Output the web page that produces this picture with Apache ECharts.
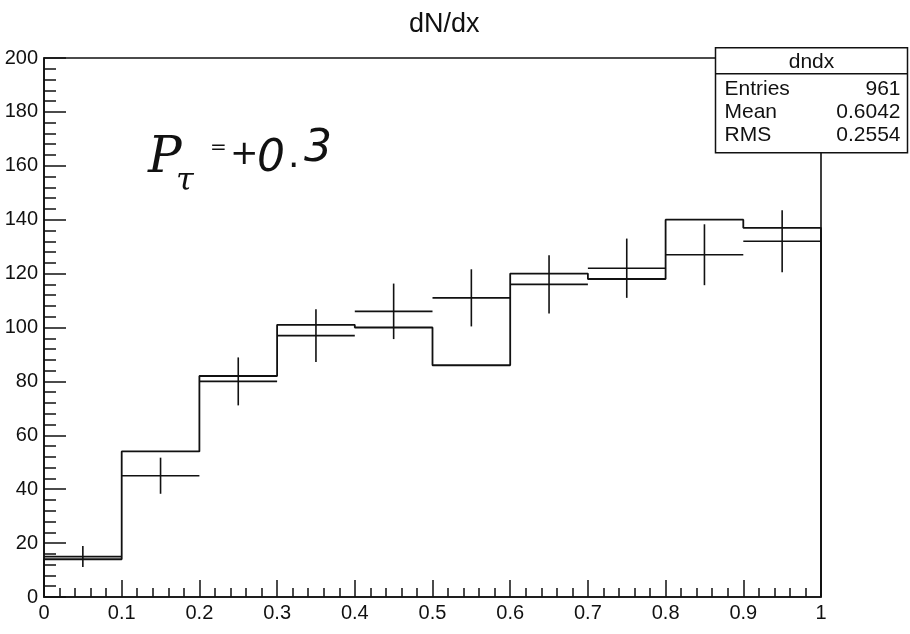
<!DOCTYPE html>
<html>
<head>
<meta charset="utf-8">
<title>dN/dx</title>
<script src="https://cdn.jsdelivr.net/npm/echarts@6/dist/echarts.min.js"></script>
<style>
html, body { margin: 0; padding: 0; background: #fff; }
#dndx { width: 910px; height: 634px; }
</style>
</head>
<body>
<div id="dndx"></div>
<script>
// bin edges (x)
var binEdges = [0, 0.1, 0.2, 0.3, 0.4, 0.5, 0.6, 0.7, 0.8, 0.9, 1.0]
// step histogram contents
var histCounts = [14, 54, 82, 101, 100, 86, 120, 118, 140, 137]
// points with error bars
var pointCounts = [15, 45, 80, 97, 106, 111, 116, 122, 127, 132]
var pointErrors = [3.9, 6.7, 8.9, 9.8, 10.3, 10.6, 10.8, 11.0, 11.3, 11.5]
// stats box
var statsName = 'dndx'
var statsLabels = ['Entries', 'Mean', 'RMS']
var statsValues = ['961', '0.6042', '0.2554']

var ink = '#111'
var font = '"Liberation Sans", Arial, Helvetica, sans-serif'
var hand = '"DejaVu Sans", sans-serif'

// histogram outline: corner points of every bin
var stepData = [[binEdges[0], 0]]
for (var i = 0; i < histCounts.length; i++) {
  stepData.push([binEdges[i], histCounts[i]])
  stepData.push([binEdges[i + 1], histCounts[i]])
}
stepData.push([binEdges[binEdges.length - 1], 0])

// error bar points: [lo, hi, value, err]
var errData = []
for (var j = 0; j < pointCounts.length; j++) {
  errData.push([binEdges[j], binEdges[j + 1], pointCounts[j], pointErrors[j]])
}

function renderErr (params, api) {
  var lo = api.value(0)
  var hi = api.value(1)
  var y = api.value(2)
  var e = api.value(3)
  var xc = (lo + hi) / 2
  var a = api.coord([lo, y])
  var b = api.coord([hi, y])
  var t = api.coord([xc, y + e])
  var d = api.coord([xc, y - e])
  var st = { stroke: ink, lineWidth: 1.6 }
  return {
    type: 'group',
    children: [
      { type: 'line', shape: { x1: a[0], y1: a[1], x2: b[0], y2: b[1] }, style: st },
      { type: 'line', shape: { x1: t[0], y1: t[1], x2: d[0], y2: d[1] }, style: st },
    ],
  }
}

// stats box graphics
var box = { left: 713, top: 47, width: 192, height: 105, head: 26 }
var statsChildren = [
  { type: 'rect', shape: { x: 0, y: 0, width: box.width, height: box.height },
    style: { fill: '#fff', stroke: ink, lineWidth: 1.5 } },
  { type: 'line', shape: { x1: 0, y1: box.head, x2: box.width, y2: box.head },
    style: { stroke: ink, lineWidth: 1.5 } },
  { type: 'text', x: box.width / 2, y: box.head / 2 + 1,
    style: { text: statsName, font: '21px ' + font, fill: ink, align: 'center', verticalAlign: 'middle' } },
]
for (var k = 0; k < statsLabels.length; k++) {
  var ry = 41 + k * 23
  statsChildren.push({ type: 'text', x: 9, y: ry,
    style: { text: statsLabels[k], font: '21px ' + font, fill: ink, align: 'left', verticalAlign: 'middle' } })
  statsChildren.push({ type: 'text', x: box.width - 7, y: ry,
    style: { text: statsValues[k], font: '21px ' + font, fill: ink, align: 'right', verticalAlign: 'middle' } })
}

// hand written note, P_tau = +0.3
var note = [
  { t: 'P', x: 148, y: 134, f: 'italic 50px "DejaVu Serif", serif' },
  { t: 'τ', x: 176, y: 166, f: 'italic 32px "DejaVu Serif", serif' },
  { t: '=', x: 210, y: 138, f: '20px ' + hand },
  { t: '+', x: 230, y: 138, f: '34px ' + hand },
  { t: '0', x: 257, y: 138, f: 'italic 44px ' + hand },
  { t: '.', x: 288, y: 140, f: '36px ' + hand },
  { t: '3', x: 304, y: 128, f: 'italic 44px ' + hand },
]
var noteGraphics = note.map(function (n) {
  return { type: 'text', left: n.x, top: n.y, style: { text: n.t, font: n.f, fill: ink } }
})

var myChart = echarts.init(document.getElementById('dndx'))
myChart.setOption({
  animation: false,
  backgroundColor: '#fff',
  title: {
    text: 'dN/dx',
    left: 404,
    top: 6,
    textStyle: { fontFamily: font, fontSize: 27, fontWeight: 'normal', color: ink },
  },
  grid: {
    left: 44,
    right: 89,
    top: 58,
    bottom: 37,
    show: true,
    borderColor: ink,
    borderWidth: 1.6,
  },
  xAxis: {
    type: 'value',
    min: 0,
    max: 1,
    interval: 0.1,
    axisLine: { lineStyle: { color: ink, width: 1.6 } },
    axisTick: { inside: true, length: 17, lineStyle: { color: ink, width: 1.5 } },
    minorTick: { show: true, splitNumber: 5, length: 9, lineStyle: { color: ink, width: 1.5 } },
    splitLine: { show: false },
    axisLabel: {
      margin: 6,
      color: ink,
      fontFamily: font,
      fontSize: 20,
      formatter: function (v) { return String(Math.round(v * 10) / 10) },
    },
  },
  yAxis: {
    type: 'value',
    min: 0,
    max: 200,
    interval: 20,
    axisLine: { show: true, lineStyle: { color: ink, width: 1.6 } },
    axisTick: { show: true, inside: true, length: 22, lineStyle: { color: ink, width: 1.5 } },
    minorTick: { show: true, splitNumber: 5, length: 12, lineStyle: { color: ink, width: 1.5 } },
    splitLine: { show: false },
    axisLabel: { margin: 6, color: ink, fontFamily: font, fontSize: 20 },
  },
  series: [
    {
      name: 'dndx',
      type: 'line',
      data: stepData,
      symbol: 'none',
      lineStyle: { color: ink, width: 1.8 },
      z: 3,
    },
    {
      name: 'points',
      type: 'custom',
      renderItem: renderErr,
      encode: { x: [0, 1], y: [2] },
      data: errData,
      z: 4,
    },
  ],
  graphic: [
    {
      type: 'group',
      left: box.left,
      top: box.top,
      z: 10,
      children: statsChildren,
    },
  ].concat(noteGraphics),
})
</script>
</body>
</html>
